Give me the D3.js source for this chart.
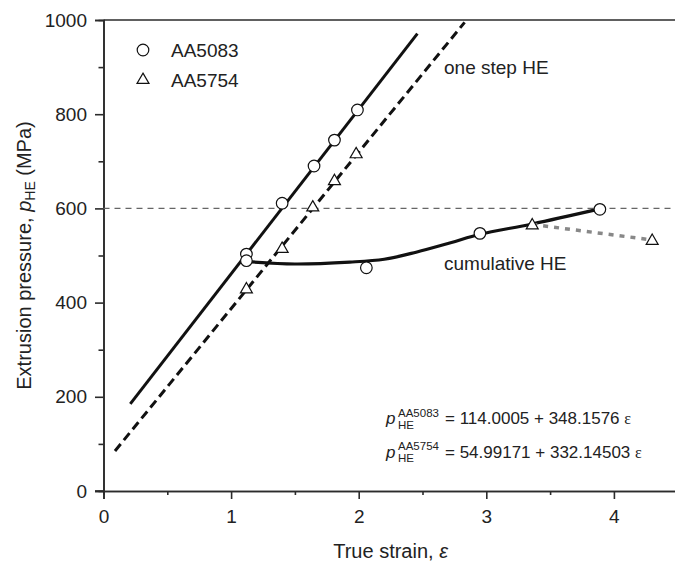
<!DOCTYPE html>
<html>
<head>
<meta charset="utf-8">
<script src="https://cdn.jsdelivr.net/npm/d3@7"></script>
<style>
  body { margin: 0; background: #fff; }
  svg { display: block; font-family: "Liberation Sans", Arial, sans-serif; }
</style>
</head>
<body>
<svg id="chart"></svg>
<script>
// data
const eps5083 = [1.12, 1.12, 1.40, 1.65, 1.81, 1.99, 2.06, 2.95, 3.89];
const p5083 = [503, 489, 611, 690, 745, 809, 474, 547, 598];
const eps5754 = [1.12, 1.40, 1.64, 1.81, 1.98, 3.36, 4.30];
const p5754 = [430, 516, 604, 660, 717, 566, 533];

// one step HE fit lines (end points)
const fitEps5083 = [0.21, 2.46];
const fitP5083 = [185, 971];
const fitEps5754 = [0.09, 2.83];
const fitP5754 = [85, 995];

// cumulative HE curve
const cumEps = [1.13, 1.5, 1.93, 2.2, 2.45, 2.72, 2.95, 3.36, 3.89];
const cumP = [487, 482, 486, 492, 507, 527, 545, 567, 599];
const tailEps = [3.36, 4.30];
const tailP = [566, 533];

const refP = 600;
const xTicks = [0, 1, 2, 3, 4];
const yTicks = [0, 200, 400, 600, 800, 1000];

const W = 675, H = 561;
const svg = d3.select('#chart').attr('width', W).attr('height', H);

const x = d3.scaleLinear().domain([0, 4.5]).range([103.5, 677.7]);
const y = d3.scaleLinear().domain([0, 1000]).range([491, 20]);

const axisColor = '#2b2b2b';

// minor ticks
const xAxisMinor = d3.axisBottom(x).tickValues(d3.range(0.5, 4.6, 1)).tickSize(4).tickFormat('');
const yAxisMinor = d3.axisLeft(y).tickValues(d3.range(100, 1000, 200)).tickSize(5).tickFormat('');

svg.append('g').attr('transform', `translate(0,${y(0)})`).call(xAxisMinor);
svg.append('g').attr('transform', `translate(${x(0)},0)`).call(yAxisMinor);

const xAxis = d3.axisBottom(x).tickValues(xTicks).tickSize(8).tickPadding(11).tickFormat(d3.format('d'));
const yAxis = d3.axisLeft(y).tickValues(yTicks).tickSize(8.5).tickPadding(8).tickFormat(d3.format('d'));

svg.append('g').attr('transform', `translate(0,${y(0)})`).call(xAxis);
svg.append('g').attr('transform', `translate(${x(0)},0)`).call(yAxis);

svg.selectAll('.domain').attr('stroke', axisColor).attr('stroke-width', 1.6);
svg.selectAll('.tick line').attr('stroke', axisColor).attr('stroke-width', 1.6);
svg.selectAll('.tick text').attr('fill', '#222').style('font-size', '19px')
  .style('font-family', '"Liberation Sans", Arial, sans-serif');

// extend x axis line to the left to meet the y tick at 0, top frame line
svg.append('line')
  .attr('x1', x(0) - 8.5).attr('x2', x(0))
  .attr('y1', y(0)).attr('y2', y(0))
  .attr('stroke', axisColor).attr('stroke-width', 1.6);
svg.append('line')
  .attr('x1', x(0)).attr('x2', x(4.5))
  .attr('y1', y(1000)).attr('y2', y(1000))
  .attr('stroke', axisColor).attr('stroke-width', 1.6);
svg.append('line')
  .attr('x1', x(4.5)).attr('x2', x(4.5))
  .attr('y1', y(1000)).attr('y2', y(0))
  .attr('stroke', axisColor).attr('stroke-width', 1.6);

// 600 MPa reference
svg.append('line')
  .attr('x1', x(0)).attr('x2', x(4.48))
  .attr('y1', y(refP)).attr('y2', y(refP))
  .attr('stroke', '#666').attr('stroke-width', 1.3)
  .attr('stroke-dasharray', '6 5');

const line = d3.line().x(d => x(d[0])).y(d => y(d[1]));

// fit lines
svg.append('path')
  .datum(d3.zip(fitEps5083, fitP5083))
  .attr('d', line)
  .attr('fill', 'none').attr('stroke', '#111').attr('stroke-width', 3);

svg.append('path')
  .datum(d3.zip(fitEps5754, fitP5754))
  .attr('d', line)
  .attr('fill', 'none').attr('stroke', '#111').attr('stroke-width', 3)
  .attr('stroke-dasharray', '9 5');

// cumulative curve
svg.append('path')
  .datum(d3.zip(cumEps, cumP))
  .attr('d', line.curve(d3.curveCatmullRom.alpha(0.5)))
  .attr('fill', 'none').attr('stroke', '#111').attr('stroke-width', 3.2);

svg.append('path')
  .datum(d3.zip(tailEps, tailP))
  .attr('d', d3.line().x(d => x(d[0])).y(d => y(d[1])))
  .attr('fill', 'none').attr('stroke', '#888').attr('stroke-width', 3.5)
  .attr('stroke-dasharray', '5 6');

// markers
const tri = d3.symbol().type(d3.symbolTriangle).size(62);

svg.append('g').selectAll('path')
  .data(d3.zip(eps5754, p5754))
  .join('path')
  .attr('d', tri)
  .attr('transform', d => `translate(${x(d[0])},${y(d[1]) + 1})`)
  .attr('fill', '#fff').attr('stroke', '#111').attr('stroke-width', 1.2);

svg.append('g').selectAll('circle')
  .data(d3.zip(eps5083, p5083))
  .join('circle')
  .attr('cx', d => x(d[0]))
  .attr('cy', d => y(d[1]))
  .attr('r', 5.8)
  .attr('fill', '#fff').attr('stroke', '#111').attr('stroke-width', 1.2);

// legend
const legend = svg.append('g');
legend.append('circle').attr('cx', 143).attr('cy', 50).attr('r', 5.8)
  .attr('fill', '#fff').attr('stroke', '#111').attr('stroke-width', 1.2);
legend.append('text').attr('x', 171).attr('y', 56.5).text('AA5083')
  .style('font-size', '19px').attr('fill', '#222');
legend.append('path').attr('d', tri).attr('transform', 'translate(143,80)')
  .attr('fill', '#fff').attr('stroke', '#111').attr('stroke-width', 1.2);
legend.append('text').attr('x', 171).attr('y', 86.5).text('AA5754')
  .style('font-size', '19px').attr('fill', '#222');

// curve labels
svg.append('text').attr('x', 444).attr('y', 74).text('one step HE')
  .style('font-size', '19px').attr('fill', '#222');
svg.append('text').attr('x', 444).attr('y', 270).text('cumulative HE')
  .style('font-size', '19px').attr('fill', '#222');

// equations
const eqs = [
  { sup: 'AA5083', rest: '= 114.0005 + 348.1576 ', y: 424 },
  { sup: 'AA5754', rest: '= 54.99171 + 332.14503 ', y: 457.5 }
];
eqs.forEach(e => {
  const g = svg.append('g').attr('fill', '#222');
  g.append('text').attr('x', 386).attr('y', e.y).text('p')
    .style('font-size', '17px').style('font-style', 'italic');
  g.append('text').attr('x', 398).attr('y', e.y - 7.5).text(e.sup)
    .style('font-size', '11.5px');
  g.append('text').attr('x', 398).attr('y', e.y + 4.5).text('HE')
    .style('font-size', '11.5px');
  const t = g.append('text').attr('x', 445).attr('y', e.y)
    .style('font-size', '17px');
  t.append('tspan').text(e.rest);
  t.append('tspan').text('ε')
    .style('font-family', '"Liberation Serif", "Times New Roman", serif')
    .style('font-size', '16px');
});

// axis titles
svg.append('text')
  .attr('x', (x(0) + x(4.5)) / 2).attr('y', 557.5)
  .attr('text-anchor', 'middle')
  .style('font-size', '20px').attr('fill', '#222')
  .call(t => {
    t.append('tspan').text('True strain, ');
    t.append('tspan').text('ε').style('font-style', 'italic');
  });

svg.append('text')
  .attr('transform', `translate(31,${(y(0) + y(1000)) / 2}) rotate(-90)`)
  .attr('text-anchor', 'middle')
  .style('font-size', '20px').attr('fill', '#222')
  .call(t => {
    t.append('tspan').text('Extrusion pressure, ');
    t.append('tspan').text('p').style('font-style', 'italic');
    t.append('tspan').text('HE').style('font-size', '14px').attr('dy', 4);
    t.append('tspan').text(' (MPa)').attr('dy', -4);
  });
</script>
</body>
</html>
